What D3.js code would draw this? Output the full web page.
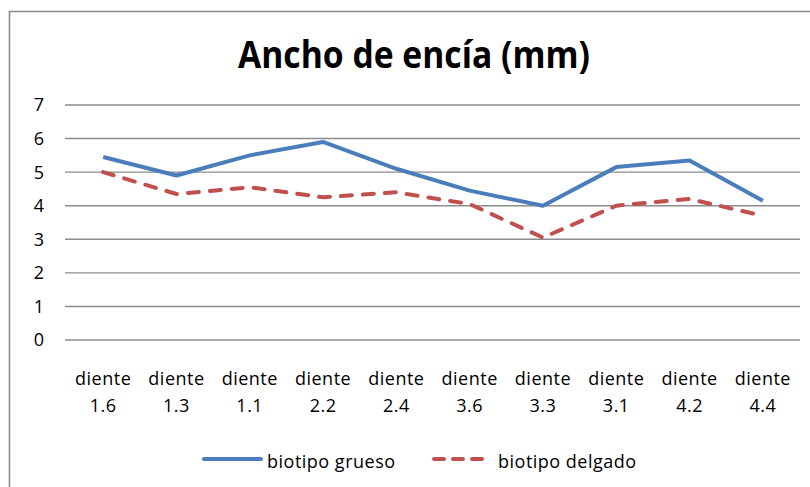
<!DOCTYPE html>
<html><head><meta charset="utf-8">
<script src="https://cdn.jsdelivr.net/npm/d3@7"></script>
<style>body{margin:0;background:#fff}svg{display:block}text{font-family:"Open Sans",sans-serif;fill:#000}</style>
</head><body>
<script>
const title = "Ancho de encía (mm)";
const categories = ["1.6","1.3","1.1","2.2","2.4","3.6","3.3","3.1","4.2","4.4"];
const catPrefix = "diente";
const grueso = [5.45,4.9,5.5,5.9,5.1,4.45,4.0,5.15,5.35,4.15];
const delgado = [5.0,4.35,4.55,4.25,4.4,4.05,3.05,4.0,4.2,3.7];
const seriesNames = ["biotipo grueso","biotipo delgado"];
const yTicks = [0,1,2,3,4,5,6,7];

const W=810,H=487;
const svg=d3.select("body").append("svg").attr("width",W).attr("height",H);
svg.append("rect").attr("width",W).attr("height",H).attr("fill","#fff");
// outer border
svg.append("path").attr("d","M9.5,487V11.5H810").attr("fill","none").attr("stroke","#8a8a8a").attr("stroke-width",1.6);

const x=d3.scaleBand().domain(categories).range([66.5,799.5]);
const y=d3.scaleLinear().domain([0,7]).range([340,105]);

// gridlines
svg.append("g").selectAll("line").data(yTicks).join("line")
  .attr("x1",65).attr("x2",800).attr("y1",d=>y(d)).attr("y2",d=>y(d))
  .attr("stroke","#8c8c8c").attr("stroke-width",1.4);

// y labels
svg.append("g").selectAll("text").data(yTicks).join("text")
  .attr("x",44).attr("y",d=>y(d)).attr("dy","0.36em").attr("text-anchor","end")
  .attr("font-size",18).text(d=>d);

// x labels
const xl=svg.append("g").selectAll("text").data(categories).join("text")
  .attr("text-anchor","middle").attr("font-size",18).attr("letter-spacing",0.5);
xl.append("tspan").attr("x",d=>x(d)+x.bandwidth()/2).attr("y",385).text(catPrefix);
xl.append("tspan").attr("x",d=>x(d)+x.bandwidth()/2).attr("y",412).text(d=>d);

const line=d3.line().x((d,i)=>x(categories[i])+x.bandwidth()/2).y(d=>y(d));
svg.append("path").datum(grueso).attr("d",line).attr("fill","none")
  .attr("stroke","#4A7EBB").attr("stroke-width",4).attr("stroke-linejoin","round");
svg.append("path").datum(delgado).attr("d",line).attr("fill","none")
  .attr("stroke","#C0504D").attr("stroke-width",4).attr("stroke-linejoin","round")
  .attr("stroke-linecap","round").attr("stroke-dasharray","11,11");

// title
svg.append("text").attr("x",414).attr("y",68).attr("text-anchor","middle")
  .attr("font-size",38).attr("font-weight","bold")
  .attr("textLength",352).attr("lengthAdjust","spacingAndGlyphs").text(title);

// legend
const lg=svg.append("g");
lg.append("line").attr("x1",204).attr("x2",261).attr("y1",459).attr("y2",459)
  .attr("stroke","#4A7EBB").attr("stroke-width",4).attr("stroke-linecap","round");
lg.append("text").attr("x",267).attr("y",468).attr("font-size",18).attr("letter-spacing",0.5).text(seriesNames[0]);
lg.append("line").attr("x1",434).attr("x2",486).attr("y1",459).attr("y2",459)
  .attr("stroke","#C0504D").attr("stroke-width",4).attr("stroke-linecap","round").attr("stroke-dasharray","10,9");
lg.append("text").attr("x",498).attr("y",468).attr("font-size",18).attr("letter-spacing",0.5).text(seriesNames[1]);
</script>
</body></html>
